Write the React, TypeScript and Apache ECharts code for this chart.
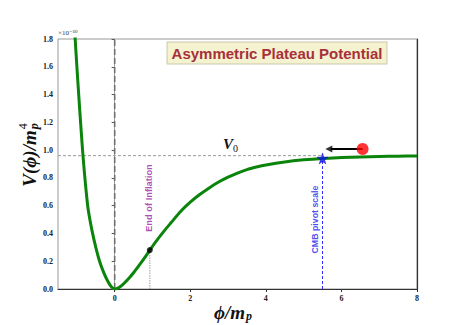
import React, { useEffect, useRef } from "react";
import * as echarts from "echarts";

const phiVals = [-1.05, -1.0, -0.95, -0.9, -0.85, -0.8, -0.75, -0.7, -0.6, -0.5, -0.4, -0.3, -0.2, -0.1, 0, 0.1, 0.2, 0.3, 0.4, 0.5, 0.6, 0.7, 0.8, 0.93, 1.1, 1.3, 1.5, 1.75, 2.0, 2.25, 2.5, 2.75, 3.0, 3.25, 3.5, 3.75, 4.0, 4.5, 5.0, 5.5, 6.0, 6.5, 7.0, 7.5, 8.0];
const potVals = [1.82, 1.6, 1.39, 1.19, 1.0, 0.835, 0.69, 0.57, 0.42, 0.3, 0.2, 0.125, 0.065, 0.02, 0, 0.008, 0.028, 0.055, 0.085, 0.117, 0.153, 0.19, 0.228, 0.28, 0.345, 0.415, 0.48, 0.56, 0.625, 0.68, 0.728, 0.77, 0.805, 0.835, 0.86, 0.878, 0.893, 0.915, 0.93, 0.94, 0.946, 0.951, 0.954, 0.956, 0.958];
const xTicks = [0, 2, 4, 6, 8];
const V0 = 0.96;
const endInflation = [0.93, 0.28];
const cmbPivot = [5.5, 0.94];
const fieldNow = [6.56, 1.008];
const arrowTip = [5.72, 1.008];
const titleText = "Asymmetric Plateau Potential";

const SERIF = "'Liberation Serif', 'DejaVu Serif', serif";
const SANS = "'Liberation Sans', Arial, sans-serif";
const STAR = "path://M50,0 L61,35 L98,35 L68,57 L79,91 L50,70 L21,91 L32,57 L2,35 L39,35 Z";

function measure(text: string, font: string) {
  const c = document.createElement("canvas").getContext("2d")!;
  c.font = font;
  return c.measureText(text).width;
}

export default function App() {
  const ref = useRef<HTMLDivElement>(null);
  useEffect(() => {
    const chart = echarts.init(ref.current!, null, { renderer: "svg" });
    const curve = phiVals.map((p, i) => [p, potVals[i]]);
    const yFont = "italic bold 19px " + SERIF;
    const mainW = measure("V(ϕ)/m", yFont);
    const yLabelLen = mainW + 9;
    const xFont = "italic bold 19px " + SERIF;
    const xMainW = measure("ϕ/m", xFont);

    chart.setOption({
      animation: false,
      grid: { left: 58, right: 47, top: 39, bottom: 36, show: true, borderColor: "#999", borderWidth: 1 },
      xAxis: {
        type: "value",
        min: -1.5,
        max: 8,
        splitLine: { show: false },
        axisLine: { show: true, lineStyle: { color: "#333", width: 1.2 } },
        axisTick: { show: true, length: 3, customValues: xTicks, lineStyle: { color: "#333" } },
        axisLabel: { customValues: xTicks, color: "#222", fontSize: 8, fontWeight: "bold", fontFamily: SERIF, margin: 5 },
      },
      yAxis: [
        {
          type: "value",
          min: 0,
          max: 1.8,
          interval: 0.2,
          splitLine: { show: false },
          axisLine: { show: true, lineStyle: { color: "#999" } },
          axisTick: { show: true, length: 3, lineStyle: { color: "#555" } },
          axisLabel: { color: "#222", fontSize: 8, fontWeight: "bold", fontFamily: SERIF, margin: 5, formatter: (v: number) => v.toFixed(1) },
        },
        {
          type: "value",
          position: "right",
          min: 0,
          max: 1.8,
          splitLine: { show: false },
          axisLine: { show: true, lineStyle: { color: "#333", width: 1.2 } },
          axisTick: { show: false },
          axisLabel: { show: false },
        },
      ],
      series: [
        {
          type: "line",
          data: [[0, 0], [0, 1.8]],
          symbol: "none",
          lineStyle: { color: "#707070", width: 1.6, type: [6, 3] },
          z: 1,
        },
        {
          type: "line",
          data: [[-1.5, V0], [cmbPivot[0], V0]],
          symbol: "none",
          lineStyle: { color: "#999", width: 1, type: [3, 2] },
          z: 1,
        },
        {
          type: "line",
          data: [[endInflation[0], 0], endInflation],
          symbol: "none",
          lineStyle: { color: "#888", width: 0.8, type: [1.5, 1] },
          z: 1,
        },
        {
          type: "line",
          data: [[cmbPivot[0], 0], cmbPivot],
          symbol: "none",
          lineStyle: { color: "#2b2bff", width: 1, type: [3, 2] },
          z: 1,
        },
        {
          type: "line",
          data: curve,
          smooth: 0.3,
          symbol: "none",
          lineStyle: { color: "#0a840a", width: 3 },
          z: 3,
        },
        {
          type: "scatter",
          data: [endInflation],
          symbolSize: 6,
          itemStyle: { color: "#000" },
          z: 4,
        },
        {
          type: "scatter",
          data: [cmbPivot],
          symbol: STAR,
          symbolSize: 11,
          itemStyle: { color: "#1010ff", borderColor: "#0000aa", borderWidth: 0.5 },
          z: 5,
        },
        {
          type: "line",
          data: [fieldNow, arrowTip],
          symbol: "none",
          lineStyle: { color: "#000", width: 2 },
          z: 4,
        },
        {
          type: "scatter",
          data: [arrowTip],
          symbol: "triangle",
          symbolSize: [7, 7],
          symbolRotate: 90,
          symbolOffset: [-2, 0],
          itemStyle: { color: "#000" },
          z: 4,
        },
        {
          type: "scatter",
          data: [fieldNow],
          symbolSize: 12,
          itemStyle: { color: "#ff0000" },
          z: 6,
        },
        {
          type: "scatter",
          data: [[0.9, 0.655]],
          symbolSize: 0,
          label: {
            show: true,
            position: "inside",
            rotate: 90,
            formatter: "End of Inflation",
            color: "#9c1fa0",
            fontSize: 9.3,
            fontWeight: "bold",
            fontFamily: SANS,
          },
          z: 6,
        },
        {
          type: "scatter",
          data: [[5.29, 0.5]],
          symbolSize: 0,
          label: {
            show: true,
            position: "inside",
            rotate: 90,
            formatter: "CMB pivot scale",
            color: "#2020ee",
            fontSize: 8.8,
            fontWeight: "bold",
            fontFamily: SANS,
          },
          z: 6,
        },
      ],
      graphic: [
        {
          type: "text",
          x: 277,
          y: 53,
          style: {
            text: titleText,
            align: "center",
            verticalAlign: "middle",
            font: "bold 15px " + SANS,
            fill: "#a8303a",
            backgroundColor: "#f4f2cf",
            borderColor: "#c9c8ad",
            borderWidth: 1,
            padding: [3, 4, 3, 4],
          },
          z: 10,
        },
        {
          type: "text",
          x: 58,
          y: 33,
          style: { text: "×10⁻¹⁰", font: "7px " + SERIF, fill: "#333", align: "left", verticalAlign: "middle" },
        },
        {
          type: "text",
          x: 233,
          y: 144,
          style: { text: "V", font: "italic bold 15px " + SERIF, fill: "#111", align: "right", verticalAlign: "middle" },
        },
        {
          type: "text",
          x: 233,
          y: 148,
          style: { text: "0", font: "10px " + SERIF, fill: "#111", align: "left", verticalAlign: "middle" },
        },
        {
          type: "group",
          x: 29,
          y: 154,
          rotation: Math.PI / 2,
          children: [
            {
              type: "text",
              x: -yLabelLen / 2,
              y: 0,
              style: { text: "V(ϕ)/m", font: yFont, fill: "#111", align: "left", verticalAlign: "middle" },
            },
            {
              type: "text",
              x: -yLabelLen / 2 + mainW + 1,
              y: -6,
              style: { text: "4", font: "12px " + SERIF, fill: "#111", align: "left", verticalAlign: "middle" },
            },
            {
              type: "text",
              x: -yLabelLen / 2 + mainW + 1,
              y: 5,
              style: { text: "p", font: "italic bold 12px " + SERIF, fill: "#111", align: "left", verticalAlign: "middle" },
            },
          ],
        },
        {
          type: "text",
          x: 214,
          y: 312,
          style: { text: "ϕ/m", font: xFont, fill: "#111", align: "left", verticalAlign: "middle" },
        },
        {
          type: "text",
          x: 214 + xMainW + 1,
          y: 316,
          style: { text: "p", font: "italic bold 12px " + SERIF, fill: "#111", align: "left", verticalAlign: "middle" },
        },
      ],
    });
    return () => chart.dispose();
  }, []);
  return <div ref={ref} style={{ position: "fixed", left: 0, top: 0, width: 464, height: 325, background: "#fff" }} />;
}
